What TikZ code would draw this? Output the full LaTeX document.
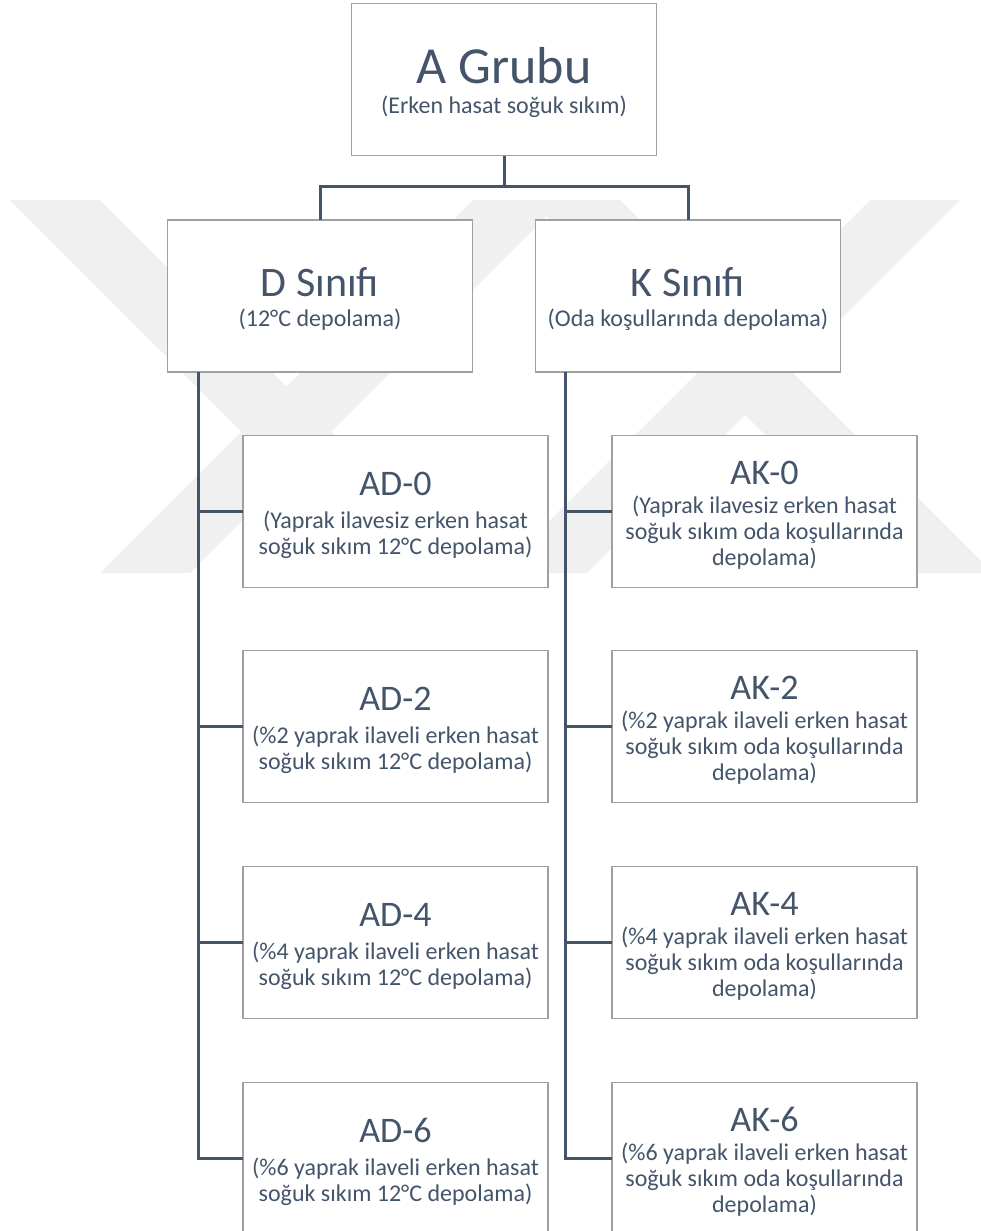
\documentclass[tikz,border=0pt]{standalone}
\usepackage{fontspec}
\setmainfont{Carlito}
\definecolor{txt}{RGB}{68,84,106}
\definecolor{lne}{RGB}{68,84,106}
\definecolor{bord}{RGB}{160,160,160}
\definecolor{wm}{RGB}{240,240,240}
\tikzset{
  box/.style={draw=bord, line width=1.5pt, fill=white, inner sep=0pt, outer sep=0pt,
              minimum width=305pt, minimum height=152pt},
  conn/.style={draw=lne, line width=3pt},
  ttl/.style={anchor=base, text=txt, inner sep=0pt, font=\fontsize{36}{43}\selectfont},
  sub/.style={anchor=base, text=txt, inner sep=0pt, font=\fontsize{24}{29}\selectfont},
  wmark/.style={fill=wm, draw=none}
}
\begin{document}
\begin{tikzpicture}[x=1pt,y=-1pt]
\useasboundingbox (0,0) rectangle (981,1231);
\clip (0,0) rectangle (981,1231);
% watermark
\fill[wmark] (10,200) -- (100,200) -- (473,573) -- (383,573) -- cycle;
\fill[wmark] (473,200) -- (563,200) -- (190,573) -- (100,573) -- cycle;
\fill[wmark] (530,200) -- (620,200) -- (993,573) -- (903,573) -- cycle;
\fill[wmark] (870,200) -- (960,200) -- (587,573) -- (497,573) -- cycle;
% boxes
\node[box] (T) at (504,79.5) {};
\node[box] (D) at (320,296) {};
\node[box] (K) at (688,296) {};
\foreach \n/\y in {0/511.5,2/726.5,4/942.5,6/1158.5}{
  \node[box] (ad\n) at (395.5,\y) {};
  \node[box] (ak\n) at (764.5,\y) {};
}
% texts
\node[ttl, font=\fontsize{52}{60}\selectfont] (Tt) at (504,83) {A Grubu};
\node[sub] (Ts) at (504,113) {(Erken hasat soğuk sıkım)};
\node[ttl, font=\fontsize{42}{50}\selectfont] (Dt) at (320,296) {D Sınıfı};
\node[sub] (Ds) at (320,326) {(12°C depolama)};
\node[ttl, font=\fontsize{42}{50}\selectfont] (Kt) at (688,296) {K Sınıfı};
\node[sub] (Ks) at (688,326) {(Oda koşullarında depolama)};
\foreach \n/\y/\a in {0/511.5/{(Yaprak ilavesiz erken hasat},2/726.5/{(\%2 yaprak ilaveli erken hasat},4/942.5/{(\%4 yaprak ilaveli erken hasat},6/1158.5/{(\%6 yaprak ilaveli erken hasat}}{
  \node[ttl] (adt\n) at (395.5,\y-16) {AD-\n};
  \node[sub] (ads\n a) at (395.5,\y+17) {\a};
  \node[sub] (ads\n b) at (395.5,\y+43) {soğuk sıkım 12°C depolama)};
  \node[ttl] (akt\n) at (764.5,\y-27) {AK-\n};
  \node[sub] (aks\n a) at (764.5,\y+2) {\a};
  \node[sub] (aks\n b) at (764.5,\y+28) {soğuk sıkım oda koşullarında};
  \node[sub] (aks\n c) at (764.5,\y+54) {depolama)};
}
% connectors
\coordinate (J) at (504,186);
\draw[conn] (T.south) -- (J);
\draw[conn] (J) -| (D.north);
\draw[conn] (J) -| (K.north);
\coordinate (Dsp) at ([xshift=31pt]D.south west);
\coordinate (Ksp) at ([xshift=30pt]K.south west);
\draw[conn] (Dsp) |- (ad6.west);
\draw[conn] (Ksp) |- (ak6.west);
\foreach \n in {0,2,4}{
  \draw[conn] (ad\n.west -| Dsp) -- (ad\n.west);
  \draw[conn] (ak\n.west -| Ksp) -- (ak\n.west);
}
\end{tikzpicture}
\end{document}
